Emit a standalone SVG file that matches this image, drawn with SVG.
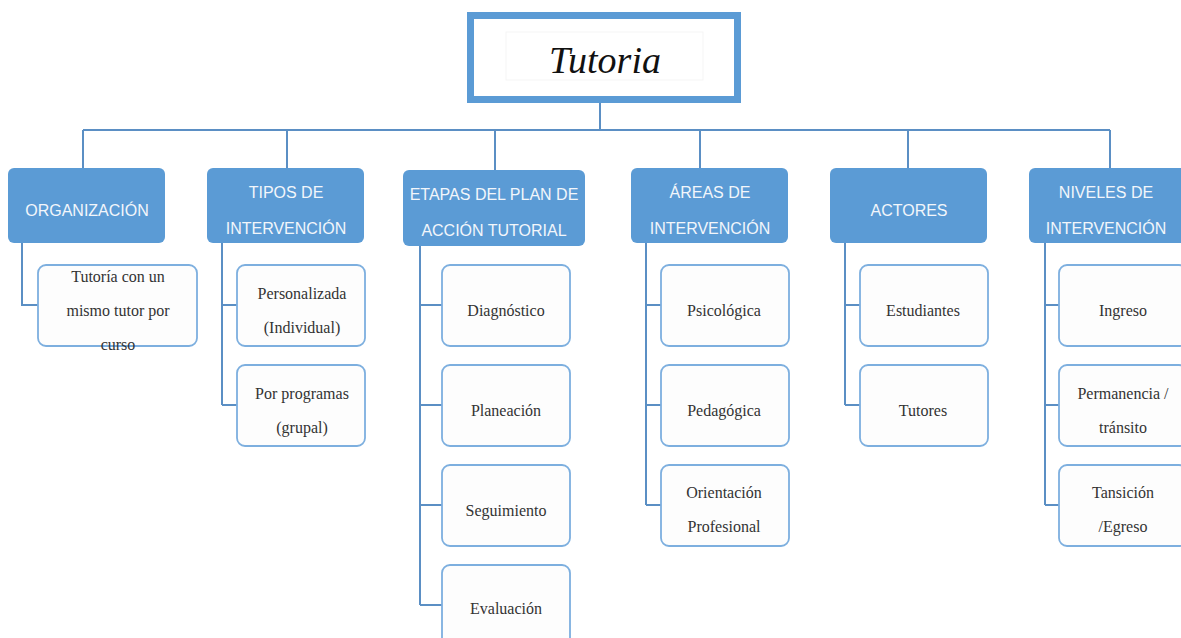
<svg xmlns="http://www.w3.org/2000/svg" width="1181" height="638" viewBox="0 0 1181 638">
<style>
.hd{fill:#5B9BD5;}
.hdt{fill:#F2F6FB;font-family:"Liberation Sans",Arial,sans-serif;font-size:16px;text-anchor:middle;}
.ch{fill:#FDFDFD;stroke:#7DAFDF;stroke-width:1.8;}
.cht{fill:#333;font-family:"Liberation Serif","Times New Roman",serif;font-size:16px;text-anchor:middle;}
.cn{fill:none;stroke:#5B8FC4;stroke-width:2;}
</style>
<rect width="1181" height="638" fill="#FFFFFF"/>
<g id="connectors">
<path class="cn" d="M600 102V130M83 130H1110M83 130V168M287 130V168M495 130V170M700 130V168M908 130V168M1110 130V168"/>
<path class="cn" d="M22 243V305H38"/>
<path class="cn" d="M222 243V405M222 305H237M222 405H237"/>
<path class="cn" d="M420 246V605M420 305H442M420 405H442M420 505H442M420 605H442"/>
<path class="cn" d="M646 243V505M646 305H661M646 405H661M646 505H661"/>
<path class="cn" d="M845 243V405M845 305H860M845 405H860"/>
<path class="cn" d="M1045 243V505M1045 305H1059M1045 405H1059M1045 505H1059"/>
</g>
<g id="root">
<rect x="470.5" y="15.5" width="267" height="84" fill="#FFFFFF" stroke="#5B9BD5" stroke-width="7"/>
<rect x="506" y="32" width="197" height="48" fill="none" stroke="#F5F5F5" stroke-width="1"/>
<text x="605" y="73" font-family="Liberation Serif,serif" font-style="italic" font-size="38" text-anchor="middle" fill="#111">Tutoria</text>
</g>
<g id="h1"><rect class="hd" x="8" y="168" width="157" height="75" rx="6"/><text class="hdt" x="87" y="216">ORGANIZACIÓN</text></g>
<g id="h2"><rect class="hd" x="207" y="168" width="157" height="75" rx="6"/><text class="hdt" x="286" y="198">TIPOS DE</text><text class="hdt" x="286" y="234">INTERVENCIÓN</text></g>
<g id="h3"><rect class="hd" x="403" y="170" width="182" height="76" rx="6"/><text class="hdt" x="494" y="200">ETAPAS DEL PLAN DE</text><text class="hdt" x="494" y="236">ACCIÓN TUTORIAL</text></g>
<g id="h4"><rect class="hd" x="631" y="168" width="157" height="75" rx="6"/><text class="hdt" x="710" y="198">ÁREAS DE</text><text class="hdt" x="710" y="234">INTERVENCIÓN</text></g>
<g id="h5"><rect class="hd" x="830" y="168" width="157" height="75" rx="6"/><text class="hdt" x="909" y="216">ACTORES</text></g>
<g id="h6"><rect class="hd" x="1029" y="168" width="160" height="75" rx="6"/><text class="hdt" x="1106" y="198">NIVELES DE</text><text class="hdt" x="1106" y="234">INTERVENCIÓN</text></g>
<g id="c1a"><rect class="ch" x="38" y="265" width="159" height="81" rx="8"/><text class="cht" x="118" y="282">Tutoría con un</text><text class="cht" x="118" y="316">mismo tutor por</text><text class="cht" x="118" y="350">curso</text></g>
<g id="c2a"><rect class="ch" x="237" y="265" width="128" height="81" rx="8"/><text class="cht" x="302" y="299">Personalizada</text><text class="cht" x="302" y="333">(Individual)</text></g>
<g id="c2b"><rect class="ch" x="237" y="365" width="128" height="81" rx="8"/><text class="cht" x="302" y="399">Por programas</text><text class="cht" x="302" y="433">(grupal)</text></g>
<g id="c3a"><rect class="ch" x="442" y="265" width="128" height="81" rx="8"/><text class="cht" x="506" y="316">Diagnóstico</text></g>
<g id="c3b"><rect class="ch" x="442" y="365" width="128" height="81" rx="8"/><text class="cht" x="506" y="416">Planeación</text></g>
<g id="c3c"><rect class="ch" x="442" y="465" width="128" height="81" rx="8"/><text class="cht" x="506" y="516">Seguimiento</text></g>
<g id="c3d"><rect class="ch" x="442" y="565" width="128" height="81" rx="8"/><text class="cht" x="506" y="614">Evaluación</text></g>
<g id="c4a"><rect class="ch" x="661" y="265" width="128" height="81" rx="8"/><text class="cht" x="724" y="316">Psicológica</text></g>
<g id="c4b"><rect class="ch" x="661" y="365" width="128" height="81" rx="8"/><text class="cht" x="724" y="416">Pedagógica</text></g>
<g id="c4c"><rect class="ch" x="661" y="465" width="128" height="81" rx="8"/><text class="cht" x="724" y="498">Orientación</text><text class="cht" x="724" y="532">Profesional</text></g>
<g id="c5a"><rect class="ch" x="860" y="265" width="128" height="81" rx="8"/><text class="cht" x="923" y="316">Estudiantes</text></g>
<g id="c5b"><rect class="ch" x="860" y="365" width="128" height="81" rx="8"/><text class="cht" x="923" y="416">Tutores</text></g>
<g id="c6a"><rect class="ch" x="1059" y="265" width="128" height="81" rx="8"/><text class="cht" x="1123" y="316">Ingreso</text></g>
<g id="c6b"><rect class="ch" x="1059" y="365" width="128" height="81" rx="8"/><text class="cht" x="1123" y="399">Permanencia /</text><text class="cht" x="1123" y="433">tránsito</text></g>
<g id="c6c"><rect class="ch" x="1059" y="465" width="128" height="81" rx="8"/><text class="cht" x="1123" y="498">Tansición</text><text class="cht" x="1123" y="532">/Egreso</text></g>
</svg>
